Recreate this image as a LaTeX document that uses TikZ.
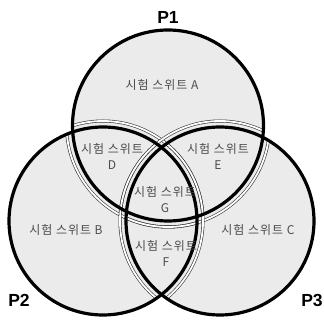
\documentclass[tikz,border=0pt]{standalone}
\usepackage{fontspec}
\newfontfamily\kr{Noto Sans CJK KR}[LetterSpace=8]
\newfontfamily\plab{Liberation Sans}
\begin{document}
\begin{tikzpicture}[x=1pt,y=-1pt,
  ring/.style={line width=3.2pt,draw=black},
  dbl/.style={draw=black!80,line width=0.6pt,double=white,double distance=1.8pt},
  txt/.style={text=black!70,align=center,inner sep=0pt,font=\kr\fontsize{12}{16}\selectfont},
  plabel/.style={text=black,inner sep=0pt,font=\plab\bfseries\fontsize{17.5}{18}\selectfont}]
\useasboundingbox (0,0) rectangle (324,320);
\coordinate (c1) at (168,125.5);
\coordinate (c2) at (103,221);
\coordinate (c3) at (220,221);
% fill
\fill[black!8] (c1) circle (95.5);
\fill[black!8] (c2) circle (94);
\fill[black!8] (c3) circle (94);
% double halo lines inside the other circles
\begin{scope}\clip (c2) circle (94); \draw[dbl] (c1) circle (101.5); \end{scope}
\begin{scope}\clip (c3) circle (94); \draw[dbl] (c1) circle (101.5); \end{scope}
\begin{scope}\clip (c1) circle (95.5); \draw[dbl] (c2) circle (100); \end{scope}
\begin{scope}\clip (c3) circle (94); \draw[dbl] (c2) circle (100); \end{scope}
\begin{scope}\clip (c1) circle (95.5); \draw[dbl] (c3) circle (100); \end{scope}
\begin{scope}\clip (c2) circle (94); \draw[dbl] (c3) circle (100); \end{scope}
% thick outlines
\draw[ring] (c1) circle (95.5);
\draw[ring] (c2) circle (94);
\draw[ring] (c3) circle (94);
% labels
\node[plabel] (p1) at (168,17) {P1};
\node[plabel] (p2) at (19,300) {P2};
\node[plabel] (p3) at (312,300) {P3};
\node[txt] (a) at (162,85) {시험 스위트 A};
\node[txt] (b) at (66,230) {시험 스위트 B};
\node[txt] (c) at (258,230) {시험 스위트 C};
\node[txt] (d) at (112,156) {시험 스위트\\D};
\node[txt] (e) at (218,156) {시험 스위트\\E};
\node[txt] (g) at (165,200) {시험 스위트\\G};
\node[txt] (f) at (166,253) {시험 스위트\\F};
\end{tikzpicture}
\end{document}
